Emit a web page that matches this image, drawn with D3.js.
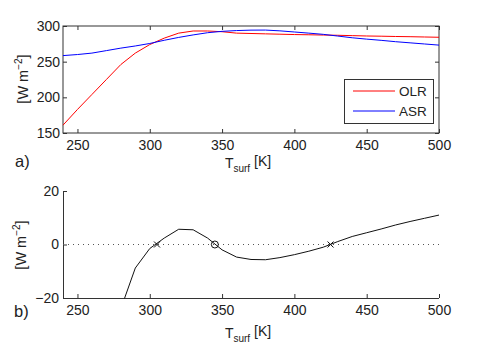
<!DOCTYPE html>
<html>
<head>
<meta charset="utf-8">
<script src="https://cdn.jsdelivr.net/npm/d3@7"></script>
<style>
  body { margin: 0; background: #fff; }
  text { font-family: "Liberation Sans", Arial, sans-serif; fill: #222; }
</style>
</head>
<body>
<svg id="chart" width="485" height="348"></svg>
<script>
// surface temperature [K]
var tsurf = [240, 250, 260, 270, 280, 290, 300, 310, 320, 330, 340, 350, 360, 370,
             380, 390, 400, 410, 420, 430, 440, 450, 460, 470, 480, 490, 500];
// outgoing longwave radiation
var olr = [161, 183, 204, 225, 246, 262, 274, 283, 290, 293, 293, 292, 290, 289.5,
           289, 288.5, 288, 287.7, 287.3, 287, 286.5, 286, 285.7, 285.3, 285, 284.6, 284.2];
// absorbed shortwave radiation
var asr = [258.5, 260, 262, 265.5, 269, 272, 275.5, 280, 284, 287.5, 290.6, 292.5, 293.6, 294.2,
           294.3, 293.2, 291.6, 290, 288.3, 285.9, 283.5, 281.6, 279.9, 278, 276.4, 274.8, 273.2];
// net flux OLR - ASR (panel b)
var net = [-98, -78, -58, -41, -24, -8.8, -1.5, 2.4, 5.7, 5.5, 2.4, -2, -4.7, -5.6,
           -5.7, -4.9, -3.8, -2.5, -1.0, 1.1, 3.0, 4.4, 5.8, 7.3, 8.6, 9.8, 11];
// equilibria: x = unstable, o = stable
var eqT = [305, 345, 425];
var eqType = ["x", "o", "x"];

var xTicks = [250, 300, 350, 400, 450, 500];
var yTicksA = [150, 200, 250, 300];
var yTicksB = [-20, 0, 20];

var svg = d3.select("#chart");
var axisCol = "#333";
var L = 63, R = 439;

var x = d3.scaleLinear().domain([240, 500]).range([L, R]);
var yA = d3.scaleLinear().domain([150, 300]).range([133, 26]);
var yB = d3.scaleLinear().domain([-20, 20]).range([298, 191]);

function styleAxis(g) {
  g.select(".domain").remove();
  g.selectAll("line").attr("stroke", axisCol);
  g.selectAll("text").attr("font-size", 14).attr("fill", "#222")
    .attr("font-family", "Liberation Sans, Arial, sans-serif");
}

// ---- panel a ----
var gA = svg.append("g");
gA.append("g").attr("transform", "translate(0,133)")
  .call(d3.axisBottom(x).tickValues(xTicks).tickSizeInner(-4).tickSizeOuter(0).tickPadding(7))
  .call(styleAxis);
gA.append("g").attr("transform", "translate(0,26)")
  .call(d3.axisTop(x).tickValues(xTicks).tickSizeInner(-4).tickSizeOuter(0).tickFormat(""))
  .call(styleAxis);
gA.append("g").attr("transform", "translate(" + L + ",0)")
  .call(d3.axisLeft(yA).tickValues(yTicksA).tickSizeInner(-4).tickSizeOuter(0).tickPadding(3))
  .call(styleAxis);
gA.append("g").attr("transform", "translate(" + R + ",0)")
  .call(d3.axisRight(yA).tickValues(yTicksA).tickSizeInner(-4).tickSizeOuter(0).tickFormat(""))
  .call(styleAxis);
gA.append("rect").attr("x", L).attr("y", 26).attr("width", R - L).attr("height", 107)
  .attr("fill", "none").attr("stroke", axisCol).attr("stroke-width", 1);

var lineA = function (vals) {
  return d3.line().x(function (d, i) { return x(tsurf[i]); })
    .y(function (d) { return yA(d); })(vals);
};
gA.append("path").attr("d", lineA(olr)).attr("fill", "none").attr("stroke", "#ff0000").attr("stroke-width", 1);
gA.append("path").attr("d", lineA(asr)).attr("fill", "none").attr("stroke", "#0000ff").attr("stroke-width", 1);

// legend
var leg = gA.append("g");
leg.append("rect").attr("x", 344.5).attr("y", 79.5).attr("width", 89).attr("height", 44)
  .attr("fill", "#fff").attr("stroke", axisCol);
[["OLR", "#ff0000", 91], ["ASR", "#0000ff", 111]].forEach(function (e) {
  leg.append("line").attr("x1", 353).attr("x2", 395).attr("y1", e[2]).attr("y2", e[2])
    .attr("stroke", e[1]).attr("stroke-width", 1);
  leg.append("text").attr("x", 399).attr("y", e[2] + 5).attr("font-size", 13.5).text(e[0]);
});

// ---- panel b ----
var gB = svg.append("g");
gB.append("g").attr("transform", "translate(0,298)")
  .call(d3.axisBottom(x).tickValues(xTicks).tickSizeInner(-4).tickSizeOuter(0).tickPadding(7))
  .call(styleAxis);
gB.append("g").attr("transform", "translate(" + L + ",0)")
  .call(d3.axisLeft(yB).tickValues(yTicksB).tickSizeInner(-4).tickSizeOuter(0).tickPadding(4))
  .call(styleAxis);
gB.append("line").attr("x1", L).attr("x2", R).attr("y1", 298.5).attr("y2", 298.5).attr("stroke", axisCol);
gB.append("line").attr("x1", L + 0.5).attr("x2", L + 0.5).attr("y1", 191).attr("y2", 298).attr("stroke", axisCol);

gB.append("line").attr("x1", x(240)).attr("x2", x(500)).attr("y1", yB(0)).attr("y2", yB(0))
  .attr("stroke", "#555").attr("stroke-dasharray", "1,4").attr("stroke-width", 1);

gB.append("clipPath").attr("id", "clipB").append("rect")
  .attr("x", L).attr("y", 180).attr("width", R - L).attr("height", 118.5);
gB.append("path")
  .attr("clip-path", "url(#clipB)")
  .attr("d", d3.line().x(function (d, i) { return x(tsurf[i]); }).y(function (d) { return yB(d); })(net))
  .attr("fill", "none").attr("stroke", "#111").attr("stroke-width", 1);

eqT.forEach(function (t, i) {
  var cx = x(t), cy = yB(0);
  if (eqType[i] === "o") {
    gB.append("circle").attr("cx", cx).attr("cy", cy).attr("r", 3.5)
      .attr("fill", "none").attr("stroke", "#111");
  } else {
    gB.append("path").attr("d", "M" + (cx - 3) + "," + (cy - 3) + "L" + (cx + 3) + "," + (cy + 3) +
      "M" + (cx - 3) + "," + (cy + 3) + "L" + (cx + 3) + "," + (cy - 3))
      .attr("stroke", "#111").attr("stroke-width", 1);
  }
});

// ---- labels ----
function xlabel(yb) {
  var t = svg.append("text").attr("x", 248).attr("y", yb).attr("text-anchor", "middle").attr("font-size", 14);
  t.append("tspan").text("T");
  t.append("tspan").attr("font-size", 10).attr("dy", 4).text("surf");
  t.append("tspan").attr("dy", -6).text(" [K]");
}
xlabel(168);
xlabel(338);

function ylabel(xc, yc) {
  var t = svg.append("text").attr("transform", "translate(" + xc + "," + yc + ") rotate(-90)")
    .attr("text-anchor", "middle").attr("font-size", 14.5);
  t.append("tspan").text("[W m");
  t.append("tspan").attr("font-size", 10).attr("dy", -6).text("\u22122");
  t.append("tspan").attr("dy", 6).text("]");
}
ylabel(28, 79);
ylabel(26, 245);

svg.append("text").attr("x", 15).attr("y", 167).attr("font-size", 16.5).text("a)");
svg.append("text").attr("x", 14).attr("y", 317).attr("font-size", 16.5).text("b)");
</script>
</body>
</html>
